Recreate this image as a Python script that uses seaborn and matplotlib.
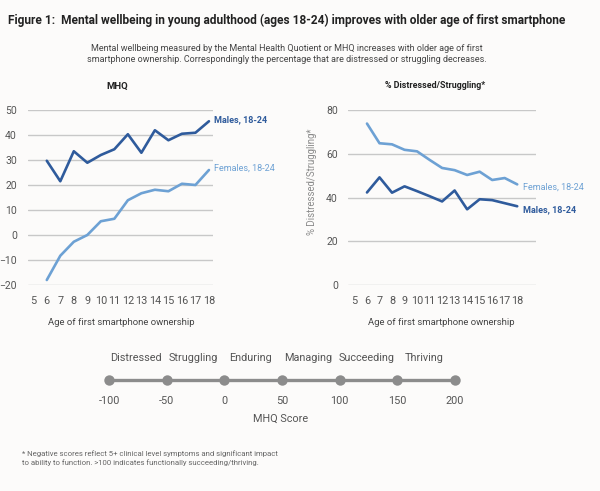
import numpy as np
import pandas as pd
import seaborn as sns
import matplotlib.pyplot as plt

#data
ages = [6, 7, 8, 9, 10, 11, 12, 13, 14, 15, 16, 17, 18]
mhq_males = [29.7, 21.5, 33.5, 28.9, 32.0, 34.3, 40.3, 32.9, 41.9, 37.9, 40.5, 40.9, 45.5]
mhq_females = [-18.0, -8.3, -2.7, 0.0, 5.5, 6.5, 13.9, 16.7, 18.1, 17.5, 20.5, 20.0, 26.0]
dist_females = [73.8, 64.8, 64.3, 61.8, 61.1, 57.2, 53.5, 52.5, 50.3, 51.8, 48.0, 48.9, 46.0]
dist_males = [42.3, 49.2, 42.2, 45.1, 42.9, 40.6, 38.2, 43.2, 34.6, 39.2, 38.8, 37.4, 36.0]
age_ticks = list(range(5, 19))
mhq_ticks = [-20, -10, 0, 10, 20, 30, 40, 50]
dist_ticks = [0, 20, 40, 60, 80]

scale_values = [-100, -50, 0, 50, 100, 150, 200]
scale_labels = ["Distressed", "Struggling", "Enduring", "Managing", "Succeeding", "Thriving"]

male_col = "#2f5b9c"
female_col = "#6da1d4"
bg = "#fcfbfa"
W, H = 600, 491

sns.set_theme(style="white")
plt.rcParams["font.family"] = ["Roboto", "DejaVu Sans"]

fig = plt.figure(figsize=(W / 100, H / 100), dpi=100, facecolor=bg)

def fx(x):
    return x / W

def fy(y):
    return 1 - y / H

def style_axes(ax, yticks, xlim, ylim, ypad):
    ax.set_facecolor(bg)
    ax.set_xlim(xlim)
    ax.set_ylim(ylim)
    ax.set_yticks(yticks)
    ax.set_xticks(age_ticks)
    ax.grid(axis="y", color="#c8c8c8", linewidth=1)
    ax.grid(axis="x", visible=False)
    for s in ax.spines.values():
        s.set_visible(False)
    ax.tick_params(axis="x", length=0, pad=8, labelsize=7.8, labelcolor="#555555")
    ax.tick_params(axis="y", length=0, pad=ypad, labelsize=7.5, labelcolor="#555555")
    ax.set_xlabel("")
    ax.set_ylabel("")

#MHQ panel
mhq_df = pd.DataFrame({"age": ages + ages,
                       "value": mhq_males + mhq_females,
                       "group": ["Males, 18-24"] * len(ages) + ["Females, 18-24"] * len(ages)})
ax1 = fig.add_axes([fx(28), fy(285), fx(185), 175 / H])
sns.lineplot(data=mhq_df, x="age", y="value", hue="group",
             palette={"Males, 18-24": male_col, "Females, 18-24": female_col},
             linewidth=1.9, legend=False, ax=ax1, clip_on=False)
style_axes(ax1, mhq_ticks, (4.61, 18.3), (-20, 50), 8)
ax1.text(18.4, mhq_males[-1] + 0.8, "Males, 18-24", color=male_col, fontsize=6.5, fontweight="bold", va="center")
ax1.text(18.4, mhq_females[-1] + 0.8, "Females, 18-24", color=female_col, fontsize=6.5, va="center")

#Distressed panel
dist_df = pd.DataFrame({"age": ages + ages,
                        "value": dist_males + dist_females,
                        "group": ["Males, 18-24"] * len(ages) + ["Females, 18-24"] * len(ages)})
ax2 = fig.add_axes([fx(347.7), fy(285), fx(188.3), 175 / H])
sns.lineplot(data=dist_df, x="age", y="value", hue="group",
             palette={"Males, 18-24": male_col, "Females, 18-24": female_col},
             linewidth=1.9, legend=False, ax=ax2, clip_on=False)
style_axes(ax2, dist_ticks, (4.46, 19.5), (0, 80), 7)
ax2.text(18.45, dist_females[-1] - 1.4, "Females, 18-24", color=female_col, fontsize=6.5, va="center")
ax2.text(18.45, dist_males[-1] - 1.6, "Males, 18-24", color=male_col, fontsize=6.5, fontweight="bold", va="center")

#panel titles and axis labels
fig.text(fx(116.7), fy(86), "MHQ", ha="center", va="center", fontsize=6.8, fontweight="bold", color="#222222")
fig.text(fx(435), fy(86), "% Distressed/Struggling*", ha="center", va="center", fontsize=6.4, fontweight="bold", color="#222222")
fig.text(fx(121), fy(322.7), "Age of first smartphone ownership", ha="center", va="center", fontsize=6.8, color="#444444")
fig.text(fx(441), fy(322.7), "Age of first smartphone ownership", ha="center", va="center", fontsize=6.8, color="#444444")
fig.text(fx(311.7), fy(182), "% Distressed/Struggling*", ha="center", va="center", rotation=90, fontsize=6.9, color="#8a8a8a")

#header
fig.text(fx(7.5), fy(20), "Figure 1:  Mental wellbeing in young adulthood (ages 18-24) improves with older age of first smartphone",
         ha="left", va="center", fontsize=8.6, fontweight="bold", color="#222222")
fig.text(fx(287), fy(54), "Mental wellbeing measured by the Mental Health Quotient or MHQ increases with older age of first\n"
         "smartphone ownership. Correspondingly the percentage that are distressed or struggling decreases.",
         ha="center", va="center", fontsize=6.5, color="#444444", linespacing=1.35)

#MHQ scale strip
ax3 = fig.add_axes([fx(109), fy(395), fx(346), 30 / H])
ax3.set_facecolor(bg)
ax3.axis("off")
ax3.set_xlim(-100, 200)
ax3.set_ylim(0, 1)
sns.lineplot(x=scale_values, y=[0.5] * len(scale_values), color="#8c8c8c", linewidth=2.4,
             marker="o", markersize=7.5, markeredgewidth=0, ax=ax3, clip_on=False)
for i, lab in enumerate(scale_labels):
    mid = (scale_values[i] + scale_values[i + 1]) / 2
    ax3.text(mid - 2, 1.24, lab, ha="center", va="center", fontsize=7.8, color="#555555")
for v in scale_values:
    ax3.text(v, -0.2, str(v), ha="center", va="center", fontsize=7.8, color="#555555")
fig.text(fx(281), fy(418.3), "MHQ Score", ha="center", va="center", fontsize=7.8, color="#555555")

#footnote
fig.text(fx(21.5), fy(458), "* Negative scores reflect 5+ clinical level symptoms and significant impact\n"
         "to ability to function. >100 indicates functionally succeeding/thriving.",
         ha="left", va="center", fontsize=5.6, color="#666666", linespacing=1.35)

plt.savefig("out.png", dpi=100, facecolor=bg)
